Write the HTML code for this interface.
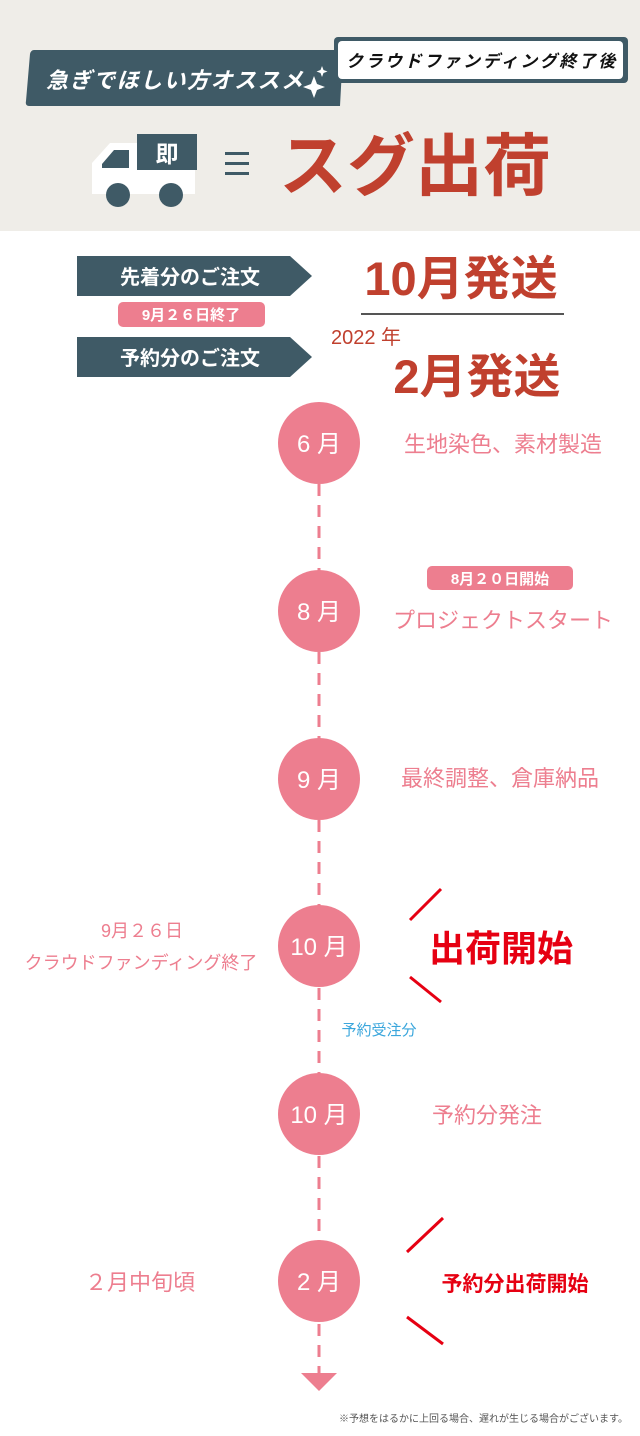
<!DOCTYPE html>
<html><head><meta charset="utf-8"><style>
html,body{margin:0;padding:0;background:#fff;}
svg{display:block;font-family:"Liberation Sans","Noto Sans CJK JP",sans-serif;}
</style></head><body>
<svg width="640" height="1436" viewBox="0 0 640 1436" xmlns="http://www.w3.org/2000/svg">
<rect x="0" y="0" width="640" height="231" fill="#efede8"/>
<!-- header banner -->
<path d="M34 50 L343 50 L340 106 L29 106 Q25 106 26 101 L30 54 Q31 50 34 50Z" fill="#3f5a66"/>
<text x="46" y="88" font-size="22" letter-spacing="1.5" fill="#fff" font-style="italic" font-weight="bold">急ぎでほしい方オススメ</text>
<path d="M314 76 l3 8 l8 3 l-8 3 l-3 8 l-3 -8 l-8 -3 l8 -3z M322 66 l1.5 4 l4 1.5 l-4 1.5 l-1.5 4 l-1.5 -4 l-4 -1.5 l4 -1.5z" fill="#fff"/>
<rect x="334" y="37" width="294" height="46" rx="4" fill="#3f5a66"/>
<rect x="338" y="41" width="285" height="38" rx="4" fill="#fff"/>
<text x="346" y="67" font-size="17" letter-spacing="2.5" fill="#111" font-style="italic" font-weight="bold">クラウドファンディング終了後</text>
<!-- truck -->
<path d="M92 194 L92 163 L110 143 L137 143 L137 170 L195 170 L195 194Z" fill="#fff"/>
<path d="M102 168 L102 164 L114 150 L129 150 L129 168Z" fill="#3f5a66"/>
<rect x="137" y="134" width="60" height="36" fill="#3f5a66"/>
<text x="167" y="162" font-size="23" font-weight="bold" fill="#fff" text-anchor="middle">即</text>
<circle cx="118" cy="195" r="12" fill="#3f5a66"/>
<circle cx="171" cy="195" r="12" fill="#3f5a66"/>
<rect x="225" y="152" width="24" height="3" fill="#3f5a66"/>
<rect x="225" y="162" width="24" height="3" fill="#3f5a66"/>
<rect x="225" y="172" width="24" height="3" fill="#3f5a66"/>
<text x="415" y="190" font-size="68" font-weight="bold" fill="#c0402e" text-anchor="middle">スグ出荷</text>
<!-- order section -->
<path d="M77 256 L290 256 L312 276 L290 296 L77 296Z" fill="#3f5a66"/>
<text x="190" y="284" font-size="20" font-weight="bold" fill="#fff" text-anchor="middle">先着分のご注文</text>
<rect x="118" y="302" width="147" height="25" rx="5" fill="#ed7e8f"/>
<text x="191" y="320" font-size="15" font-weight="bold" fill="#fff" text-anchor="middle">9月２６日終了</text>
<path d="M77 337 L290 337 L312 357 L290 377 L77 377Z" fill="#3f5a66"/>
<text x="190" y="365" font-size="20" font-weight="bold" fill="#fff" text-anchor="middle">予約分のご注文</text>
<text x="461" y="295" font-size="47" font-weight="bold" fill="#c0402e" text-anchor="middle">10月発送</text>
<rect x="361" y="313" width="203" height="2" fill="#555"/>
<text x="331" y="344" font-size="20" fill="#c0402e">2022 年</text>
<text x="477" y="393" font-size="47" font-weight="bold" fill="#c0402e" text-anchor="middle">2月発送</text>
<!-- timeline -->
<line x1="319" y1="484" x2="319" y2="1376" stroke="#ed7e8f" stroke-width="3" stroke-dasharray="12 9"/>
<path d="M301 1373 L337 1373 L319 1391Z" fill="#ed7e8f"/>
<g fill="#ed7e8f">
<circle cx="319" cy="443" r="41"/><circle cx="319" cy="611" r="41"/><circle cx="319" cy="779" r="41"/>
<circle cx="319" cy="946" r="41"/><circle cx="319" cy="1114" r="41"/><circle cx="319" cy="1281" r="41"/>
</g>
<g fill="#fff" font-size="24" text-anchor="middle">
<text x="319" y="452">6 月</text><text x="319" y="620">8 月</text><text x="319" y="788">9 月</text>
<text x="319" y="955">10 月</text><text x="319" y="1123">10 月</text><text x="319" y="1290">2 月</text>
</g>
<g fill="#ed7e8f" font-size="22" text-anchor="middle">
<text x="503" y="452">生地染色、素材製造</text>
<text x="503" y="628">プロジェクトスタート</text>
<text x="500" y="786">最終調整、倉庫納品</text>
<text x="487" y="1123">予約分発注</text>
<text x="140" y="1290">２月中旬頃</text>
</g>
<rect x="427" y="566" width="146" height="24" rx="5" fill="#ed7e8f"/>
<text x="500" y="584" font-size="15" font-weight="bold" fill="#fff" text-anchor="middle">8月２０日開始</text>
<text x="142" y="937" font-size="18" fill="#ed7e8f" text-anchor="middle">9月２６日</text>
<text x="141" y="969" font-size="18" fill="#ed7e8f" text-anchor="middle">クラウドファンディング終了</text>
<text x="379" y="1035" font-size="15" fill="#3aa6dc" text-anchor="middle">予約受注分</text>
<g stroke="#e60012" stroke-width="3">
<line x1="410" y1="920" x2="441" y2="889"/><line x1="410" y1="977" x2="441" y2="1002"/>
<line x1="407" y1="1252" x2="443" y2="1218"/><line x1="407" y1="1317" x2="443" y2="1344"/>
</g>
<text x="501" y="961" font-size="36" font-weight="bold" fill="#e60012" text-anchor="middle">出荷開始</text>
<text x="515" y="1291" font-size="21" font-weight="bold" fill="#e60012" text-anchor="middle">予約分出荷開始</text>
<text x="628" y="1422" font-size="10" fill="#555" text-anchor="end">※予想をはるかに上回る場合、遅れが生じる場合がございます。</text>
</svg>
</body></html>
